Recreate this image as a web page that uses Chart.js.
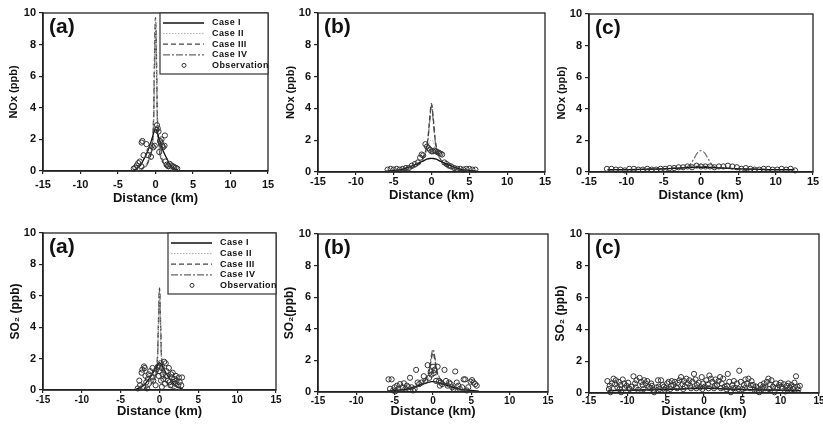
<!DOCTYPE html>
<html>
<head>
<meta charset="utf-8">
<script src="https://cdn.jsdelivr.net/npm/chart.js@4.4.1/dist/chart.umd.min.js"></script>
<style>
  body { margin: 0; width: 823px; height: 428px; overflow: hidden; background: #fff; position: relative; }
  canvas { position: absolute; }
</style>
</head>
<body>
<canvas id="noxA"></canvas>
<canvas id="noxB"></canvas>
<canvas id="noxC"></canvas>
<canvas id="so2A"></canvas>
<canvas id="so2B"></canvas>
<canvas id="so2C"></canvas>
<script>
// axis ticks
const xTickVals = [-15, -10, -5, 0, 5, 10, 15];
const yTickVals = [0, 2, 4, 6, 8, 10];
const legendNames = ['Case I', 'Case II', 'Case III', 'Case IV', 'Observation'];

// model x grids (km)
const gridA = [-3, -2.5, -2, -1.5, -1, -0.5, -0.25, -0.1, 0, 0.1, 0.25, 0.5, 1, 1.5, 2, 2.5, 3];
const gridB = [-6, -5, -4, -3, -2, -1.5, -1, -0.5, -0.25, 0, 0.25, 0.5, 1, 1.5, 2, 3, 4, 5, 6];
const gridC = [-12.5, -10, -7, -5, -3, -2, -1.5, -1, -0.5, 0, 0.5, 1, 1.5, 2, 3, 5, 7, 10, 12.5];

// NOx (a)
const noxA1 = [0.05, 0.15, 0.35, 0.8, 1.3, 2.0, 2.4, 2.6, 2.65, 2.6, 2.4, 2.0, 1.3, 0.8, 0.35, 0.15, 0.05];
const noxA2 = [0, 0.05, 0.1, 0.3, 0.7, 1.6, 3.0, 7.0, 9.6, 7.0, 3.0, 1.6, 0.7, 0.3, 0.1, 0.05, 0];
const noxA3 = [0, 0.05, 0.1, 0.25, 0.6, 1.5, 3.5, 8.0, 9.7, 8.0, 3.5, 1.5, 0.6, 0.25, 0.1, 0.05, 0];
const noxA4 = [0, 0.02, 0.08, 0.2, 0.5, 1.4, 3.2, 7.5, 9.3, 7.5, 3.2, 1.4, 0.5, 0.2, 0.08, 0.02, 0];
const noxAObsX = [-2.9, -2.7, -2.5, -2.3, -2.1, -1.9, -1.6, -1.85, -1.75, -1.2, -1.0, -0.8, -0.6, -0.5, -0.3, -0.1, 0.1, 0.2, 0.3, 0.4,
  0.5, 0.6, 0.7, 0.8, 0.9, 1.0, 1.25, 1.2, 1.3, 1.5, 1.7, 1.9, 2.1, 2.3, 2.5, 2.7, 2.9];
const noxAObsY = [0.15, 0.2, 0.35, 0.5, 0.6, 0.3, 1.0, 1.8, 1.9, 1.7, 1.0, 1.3, 0.9, 1.6, 1.5, 1.6, 2.6, 2.9, 2.7, 2.5,
  1.2, 1.9, 1.8, 2.0, 1.6, 1.5, 2.25, 1.6, 0.6, 0.4, 0.3, 0.45, 0.35, 0.3, 0.25, 0.2, 0.15];

// NOx (b)
const noxB1 = [0.05, 0.1, 0.15, 0.3, 0.5, 0.6, 0.72, 0.82, 0.85, 0.86, 0.85, 0.82, 0.72, 0.6, 0.5, 0.3, 0.15, 0.1, 0.05];
const noxB2 = [0.02, 0.05, 0.1, 0.2, 0.35, 0.55, 0.9, 1.5, 1.9, 2.0, 1.9, 1.5, 0.9, 0.55, 0.35, 0.2, 0.1, 0.05, 0.02];
const noxB3 = [0.02, 0.05, 0.1, 0.2, 0.4, 0.6, 1.0, 2.0, 3.3, 4.3, 3.3, 2.0, 1.0, 0.6, 0.4, 0.2, 0.1, 0.05, 0.02];
const noxB4 = [0.02, 0.05, 0.1, 0.18, 0.35, 0.55, 0.95, 1.9, 3.1, 4.2, 3.1, 1.9, 0.95, 0.55, 0.35, 0.18, 0.1, 0.05, 0.02];
const noxBObsX = [-5.8, -5.4, -5.0, -4.6, -4.2, -3.8, -3.4, -3.0, -2.6, -2.2, -1.8, -1.5, -1.3, -1.1, -0.8, -0.6, -0.4, -0.2, 0, 0.2,
  0.4, 0.6, 0.8, 1.0, 1.2, 1.4, 1.7, 2.0, 2.3, 2.6, 3.0, 3.4, 3.8, 4.2, 4.6, 5.0, 5.4, 5.8];
const noxBObsY = [0.15, 0.2, 0.15, 0.2, 0.15, 0.2, 0.25, 0.25, 0.4, 0.5, 0.6, 0.9, 1.1, 1.05, 1.75, 1.6, 1.5, 1.4, 1.3, 1.3,
  1.35, 1.3, 1.25, 1.2, 1.15, 1.1, 0.6, 0.5, 0.4, 0.35, 0.25, 0.2, 0.2, 0.15, 0.2, 0.2, 0.15, 0.15];

// NOx (c)
const noxC1 = [0.15, 0.15, 0.18, 0.2, 0.25, 0.27, 0.28, 0.29, 0.3, 0.3, 0.3, 0.29, 0.28, 0.27, 0.25, 0.2, 0.18, 0.15, 0.15];
const noxC2 = [0.15, 0.15, 0.18, 0.2, 0.25, 0.3, 0.35, 0.42, 0.48, 0.5, 0.48, 0.42, 0.35, 0.3, 0.25, 0.2, 0.18, 0.15, 0.15];
const noxC3 = [0.15, 0.15, 0.18, 0.2, 0.25, 0.28, 0.3, 0.33, 0.36, 0.37, 0.36, 0.33, 0.3, 0.28, 0.25, 0.2, 0.18, 0.15, 0.15];
const noxC4 = [0.15, 0.15, 0.18, 0.2, 0.25, 0.3, 0.45, 0.8, 1.2, 1.35, 1.2, 0.8, 0.45, 0.3, 0.25, 0.2, 0.18, 0.15, 0.15];
const noxCObsX = [-12.6, -12.0, -11.4, -10.8, -10.2, -9.6, -9.0, -8.4, -7.8, -7.2, -6.6, -6.0, -5.4, -4.8, -4.2, -3.6, -3.0, -2.4, -1.8, -1.2,
  -0.6, 0, 0.6, 1.2, 1.8, 2.4, 3.0, 3.6, 4.2, 4.8, 5.4, 6.0, 6.6, 7.2, 7.8, 8.4, 9.0, 9.6, 10.2, 10.8, 11.4, 12.0, 12.6];
const noxCObsY = [0.2, 0.2, 0.15, 0.15, 0.1, 0.2, 0.2, 0.15, 0.15, 0.2, 0.15, 0.15, 0.2, 0.2, 0.25, 0.25, 0.3, 0.3, 0.35, 0.3,
  0.4, 0.35, 0.35, 0.35, 0.3, 0.35, 0.35, 0.4, 0.35, 0.3, 0.2, 0.25, 0.2, 0.15, 0.15, 0.2, 0.2, 0.15, 0.15, 0.2, 0.15, 0.2, 0.1];

// SO2 (a)
const so2A1 = [0.05, 0.15, 0.3, 0.6, 0.95, 1.4, 1.6, 1.7, 1.75, 1.7, 1.6, 1.4, 0.95, 0.6, 0.3, 0.15, 0.05];
const so2A2 = [0, 0.03, 0.08, 0.2, 0.5, 1.1, 2.0, 4.5, 6.2, 4.5, 2.0, 1.1, 0.5, 0.2, 0.08, 0.03, 0];
const so2A3 = [0, 0.03, 0.07, 0.18, 0.45, 1.0, 2.2, 5.0, 6.5, 5.0, 2.2, 1.0, 0.45, 0.18, 0.07, 0.03, 0];
const so2A4 = [0, 0.02, 0.06, 0.15, 0.4, 0.95, 2.1, 4.8, 6.4, 4.8, 2.1, 0.95, 0.4, 0.15, 0.06, 0.02, 0];
const so2AObsX = [-2.8, -2.6, -2.5, -2.3, -2.2, -2.0, -1.9, -1.8, -1.7, -1.5,
  -1.4, -1.2, -1.0, -0.9, -0.8, -0.6, -0.5, -0.4, -0.2, -0.1,
  0, 0.1, 0.2, 0.3, 0.4, 0.5, 0.6, 0.7, 0.8, 0.9,
  1.0, 1.1, 1.2, 1.3, 1.4, 1.5, 1.6, 1.7, 1.8, 1.9,
  2.0, 2.1, 2.2, 2.4, 2.5, 2.6, 2.8, 2.9, -2.1, -1.6, 0.3];
const so2AObsY = [0.1, 0.6, 0.3, 1.1, 1.3, 1.5, 1.4, 0.9, 0.5, 0.7,
  1.0, 1.2, 0.8, 1.4, 0.6, 1.1, 0.3, 1.3, 1.5, 0.9,
  1.2, 1.7, 0.6, 1.4, 1.0, 0.7, 1.8, 0.4, 1.7, 1.2,
  0.9, 0.6, 1.4, 0.5, 0.3, 1.0, 0.8, 1.1, 0.5, 0.7,
  0.4, 0.9, 0.6, 0.3, 0.8, 0.5, 0.3, 0.8, 0.2, 0.1, 0.2];

// SO2 (b)
const so2B1 = [0.05, 0.1, 0.15, 0.25, 0.4, 0.48, 0.55, 0.62, 0.65, 0.66, 0.65, 0.62, 0.55, 0.48, 0.4, 0.25, 0.15, 0.1, 0.05];
const so2B2 = [0.02, 0.05, 0.1, 0.18, 0.3, 0.42, 0.6, 0.95, 1.3, 1.5, 1.3, 0.95, 0.6, 0.42, 0.3, 0.18, 0.1, 0.05, 0.02];
const so2B3 = [0.02, 0.05, 0.1, 0.2, 0.35, 0.5, 0.75, 1.3, 2.0, 2.5, 2.0, 1.3, 0.75, 0.5, 0.35, 0.2, 0.1, 0.05, 0.02];
const so2B4 = [0.02, 0.05, 0.1, 0.2, 0.35, 0.5, 0.8, 1.4, 2.2, 2.7, 2.2, 1.4, 0.8, 0.5, 0.35, 0.2, 0.1, 0.05, 0.02];
const so2BObsX = [-5.8, -5.4, -5.6, -5.2, -5.0, -4.7, -4.5, -4.3, -4.0, -3.8,
  -3.6, -3.4, -3.2, -3.0, -2.8, -2.6, -2.4, -2.2, -2.0, -1.8,
  -1.5, -1.2, -1.0, -0.7, -0.5, -0.3, -0.2, 0, 0.1, 0.2,
  0.4, 0.6, 0.8, 1.0, 1.2, 1.5, 1.7, 1.9, 2.1, 2.3,
  2.5, 2.7, 2.9, 3.1, 3.3, 3.5, 3.8, 4.0, 4.2, 4.4,
  4.6, 4.9, 5.1, 5.3, 5.5, 5.7, -4.9, 0.9];
const so2BObsY = [0.8, 0.8, 0.2, 0.1, 0.3, 0.4, 0.2, 0.5, 0.3, 0.55,
  0.2, 0.4, 0.3, 0.9, 0.3, 0.1, 0.2, 1.4, 0.6, 0.5,
  0.6, 1.0, 0.7, 1.7, 0.9, 1.3, 1.1, 1.6, 1.2, 1.4,
  0.7, 1.6, 0.7, 0.6, 0.5, 1.4, 0.7, 0.4, 0.6, 0.5,
  0.3, 0.2, 1.3, 0.6, 0.4, 0.2, 0.3, 0.8, 0.8, 0.1,
  0.3, 0.65, 0.75, 0.6, 0.5, 0.4, 0.05, 0.4];

// SO2 (c)
const so2C1 = [0.15, 0.17, 0.2, 0.22, 0.25, 0.27, 0.28, 0.28, 0.29, 0.3, 0.29, 0.28, 0.28, 0.27, 0.25, 0.22, 0.2, 0.17, 0.15];
const so2C2 = [0.15, 0.17, 0.2, 0.22, 0.26, 0.29, 0.31, 0.33, 0.35, 0.36, 0.35, 0.33, 0.31, 0.29, 0.26, 0.22, 0.2, 0.17, 0.15];
const so2C3 = [0.16, 0.18, 0.21, 0.23, 0.26, 0.28, 0.29, 0.3, 0.31, 0.32, 0.31, 0.3, 0.29, 0.28, 0.26, 0.23, 0.21, 0.18, 0.16];
const so2C4 = [0.15, 0.17, 0.2, 0.22, 0.26, 0.3, 0.33, 0.37, 0.4, 0.42, 0.4, 0.37, 0.33, 0.3, 0.26, 0.22, 0.2, 0.17, 0.15];
const so2CObsX = [
  -12.6, -12.4, -12.2, -12.0, -11.8, -11.6, -11.5, -11.3, -11.1, -10.9,
  -10.8, -10.6, -10.4, -10.3, -10.1, -9.9, -9.7, -9.4, -9.2, -9.0,
  -8.8, -8.6, -8.4, -8.2, -8.0, -7.8, -7.6, -7.4, -7.2, -7.0,
  -6.8, -6.6, -6.5, -6.2, -6.0, -5.8, -5.6, -5.4, -5.2, -5.0,
  -4.8, -4.6, -4.4, -4.2, -4.0, -3.8, -3.6, -3.4, -3.2, -3.0,
  -2.8, -2.6, -2.5, -2.3, -2.1, -1.9, -1.7, -1.5, -1.3, -1.1,
  -0.9, -0.7, -0.5, -0.3, -0.1, 0.1, 0.3, 0.5, 0.7, 0.9,
  1.1, 1.3, 1.5, 1.7, 1.9, 2.1, 2.3, 2.5, 2.7, 2.9,
  3.1, 3.3, 3.5, 3.7, 3.9, 4.1, 4.3, 4.6, 4.8, 5.0,
  5.2, 5.4, 5.6, 5.8, 6.0, 6.2, 6.4, 6.6, 6.8, 7.0,
  7.2, 7.4, 7.6, 7.8, 8.0, 8.2, 8.4, 8.6, 8.8, 9.0,
  9.2, 9.4, 9.6, 9.8, 10.0, 10.2, 10.4, 10.6, 10.8, 11.0,
  11.2, 11.4, 11.6, 11.8, 12.0, 12.2, 12.5,
  -12.3, -11.0, -9.8, -8.9, -7.9, -6.9, -5.9, -5.1, -4.3, -3.5,
  -2.7, -1.8, -1.0, -0.2, 0.6, 1.4, 2.2, 3.0, 3.8, 4.5,
  5.3, 6.1, 6.9, 7.7, 8.5, 9.3, 10.1, 10.9, 11.7, 12.3];
const so2CObsY = [
  0.75, 0.25, 0.05, 0.6, 0.9, 0.55, 0.8, 0.35, 0.7, 0.5,
  0.05, 0.85, 0.6, 0.3, 0.45, 0.65, 0.25, 0.4, 1.05, 0.6,
  0.8, 0.2, 0.95, 0.7, 0.5, 0.8, 0.6, 0.75, 0.4, 0.3,
  0.45, 0.2, 0.05, 0.35, 0.8, 0.25, 0.8, 0.5, 0.4, 0.3,
  0.6, 0.7, 0.25, 0.75, 0.5, 0.7, 0.35, 0.65, 0.8, 1.0,
  0.55, 0.75, 0.4, 0.9, 0.6, 0.8, 0.3, 0.7, 1.2, 0.85,
  0.5, 0.65, 0.35, 1.0, 0.6, 0.4, 0.8, 0.55, 1.1, 0.9,
  0.7, 0.3, 0.85, 0.5, 0.75, 1.0, 0.6, 0.9, 0.4, 0.25,
  1.2, 0.7, 0.05, 0.5, 0.75, 0.3, 0.6, 1.4, 0.7, 0.25,
  0.5, 0.85, 0.6, 0.9, 0.3, 0.75, 0.5, 0.2, 0.4, 0.3,
  0.05, 0.5, 0.25, 0.6, 0.3, 0.7, 0.9, 0.55, 0.8, 0.4,
  0.05, 0.6, 0.35, 0.5, 0.65, 0.3, 0.55, 0.1, 0.45, 0.6,
  0.35, 0.5, 0.25, 0.65, 1.05, 0.4, 0.45,
  0.45, 0.25, 0.3, 0.35, 0.25, 0.6, 0.4, 0.2, 0.45, 0.3,
  0.25, 0.45, 0.3, 0.25, 0.3, 0.45, 0.3, 0.45, 0.3, 0.25,
  0.3, 0.5, 0.15, 0.4, 0.25, 0.3, 0.4, 0.2, 0.4, 0.2];

const FONT = '"Liberation Sans", Arial, sans-serif';
Chart.defaults.font.family = FONT;
Chart.defaults.color = '#111';

// line look per case
const caseStyle = [
  { color: '#111', dash: [], width: 1.3 },
  { color: '#aaa', dash: [1.5, 1.5], width: 1 },
  { color: '#444', dash: [5, 3], width: 1.3 },
  { color: '#666', dash: [7, 2, 2, 2], width: 1.2 }
];

function drawLegend(ctx, a) {
  const w = 108, h = 61, x0 = a.right - w, y0 = a.top;
  ctx.fillStyle = '#fff';
  ctx.fillRect(x0, y0, w, h);
  ctx.strokeStyle = '#333';
  ctx.lineWidth = 1.2;
  ctx.strokeRect(x0, y0, w, h);
  ctx.font = 'bold 9px ' + FONT;
  ctx.letterSpacing = '0.4px';
  ctx.textBaseline = 'middle';
  legendNames.forEach((name, i) => {
    const y = y0 + 10 + i * 10.6;
    ctx.beginPath();
    if (i < caseStyle.length) {
      const s = caseStyle[i];
      ctx.setLineDash(s.dash);
      ctx.strokeStyle = s.color;
      ctx.lineWidth = s.width;
      ctx.moveTo(x0 + 3, y);
      ctx.lineTo(x0 + 44, y);
    } else {
      ctx.setLineDash([]);
      ctx.strokeStyle = '#333';
      ctx.lineWidth = 1;
      ctx.arc(x0 + 24, y, 2, 0, Math.PI * 2);
    }
    ctx.stroke();
    ctx.setLineDash([]);
    ctx.fillStyle = '#111';
    ctx.fillText(name, x0 + 52, y);
  });
}

// frame, panel tag and legend
const panelDecor = {
  id: 'panelDecor',
  afterDatasetsDraw(chart, args, opts) {
    const ctx = chart.ctx, a = chart.chartArea;
    ctx.save();
    ctx.strokeStyle = '#222';
    ctx.lineWidth = 1.3;
    ctx.strokeRect(a.left, a.top, a.right - a.left, a.bottom - a.top);
    ctx.fillStyle = '#111';
    ctx.font = 'bold 21px ' + FONT;
    ctx.textBaseline = 'middle';
    ctx.fillText(opts.tag, a.left + 6, a.top + 14);
    if (opts.legend) drawLegend(ctx, a);
    ctx.restore();
  }
};
Chart.register(panelDecor);

const panels = [
  { id: 'noxA', left: 0, top: 0, w: 283, h: 214, padTop: 13, padRight: 15, yW: 43, xH: 43,
    yTitle: 'NOx (ppb)', yTitleSize: 11, yTitlePad: 8.5, xTitlePad: 9, xTickPad: 4, xTickSize: 11, tag: '(a)', legend: true,
    xs: gridA, cases: [noxA1, noxA2, noxA3, noxA4], obsX: noxAObsX, obsY: noxAObsY },
  { id: 'noxB', left: 283, top: 0, w: 272, h: 214, padTop: 13, padRight: 10, yW: 35, xH: 42,
    yTitle: 'NOx (ppb)', yTitleSize: 11, yTitlePad: 2.5, xTitlePad: 12.5, xTickPad: 0, xTickSize: 11, tag: '(b)', legend: false,
    xs: gridB, cases: [noxB1, noxB2, noxB3, noxB4], obsX: noxBObsX, obsY: noxBObsY },
  { id: 'noxC', left: 555, top: 0, w: 275, h: 214, padTop: 14, padRight: 17, yW: 34, xH: 42,
    yTitle: 'NOx (ppb)', yTitleSize: 11, yTitlePad: 1, xTitlePad: 12.5, xTickPad: 0, xTickSize: 11, tag: '(c)', legend: false,
    xs: gridC, cases: [noxC1, noxC2, noxC3, noxC4], obsX: noxCObsX, obsY: noxCObsY },
  { id: 'so2A', left: 0, top: 214, w: 283, h: 214, padTop: 19, padRight: 7, yW: 43, xH: 38,
    yTitle: 'SO\u2082 (ppb)', yTitleSize: 12, yTitlePad: 10, xTitlePad: 10.5, xTickPad: 1, xTickSize: 10, tag: '(a)', legend: true,
    xs: gridA, cases: [so2A1, so2A2, so2A3, so2A4], obsX: so2AObsX, obsY: so2AObsY },
  { id: 'so2B', left: 283, top: 214, w: 272, h: 214, padTop: 20, padRight: 7, yW: 35, xH: 36,
    yTitle: 'SO\u2082(ppb)', yTitleSize: 12, yTitlePad: 1, xTitlePad: 10, xTickPad: 0, xTickSize: 10, tag: '(b)', legend: false,
    xs: gridB, cases: [so2B1, so2B2, so2B3, so2B4], obsX: so2BObsX, obsY: so2BObsY },
  { id: 'so2C', left: 555, top: 214, w: 275, h: 214, padTop: 20, padRight: 11, yW: 34, xH: 35,
    yTitle: 'SO\u2082 (ppb)', yTitleSize: 12, yTitlePad: 0, xTitlePad: 10, xTickPad: -1, xTickSize: 10, tag: '(c)', legend: false,
    xs: gridC, cases: [so2C1, so2C2, so2C3, so2C4], obsX: so2CObsX, obsY: so2CObsY }
];

function buildPanel(p) {
  const cv = document.getElementById(p.id);
  cv.width = p.w;
  cv.height = p.h;
  cv.style.left = p.left + 'px';
  cv.style.top = p.top + 'px';

  const datasets = [{
    label: 'Observation',
    data: p.obsX.map((x, i) => ({ x: x, y: p.obsY[i] })),
    showLine: false,
    pointRadius: 2.6,
    pointBorderWidth: 1,
    pointBorderColor: '#333',
    pointBackgroundColor: 'rgba(255,255,255,0)',
    clip: false,
    order: 0
  }];
  p.cases.forEach((ys, k) => {
    const s = caseStyle[k];
    datasets.push({
      label: legendNames[k],
      data: p.xs.map((x, i) => ({ x: x, y: ys[i] })),
      showLine: true,
      pointRadius: 0,
      borderColor: s.color,
      borderDash: s.dash,
      borderWidth: s.width,
      cubicInterpolationMode: 'monotone',
      order: k + 1
    });
  });

  new Chart(cv, {
    type: 'scatter',
    data: { datasets: datasets },
    options: {
      responsive: false,
      animation: false,
      devicePixelRatio: 1,
      layout: { padding: { left: 0, top: p.padTop, right: p.padRight, bottom: 0 } },
      plugins: {
        legend: { display: false },
        tooltip: { enabled: false },
        panelDecor: { tag: p.tag, legend: p.legend }
      },
      scales: {
        x: {
          type: 'linear', min: -15, max: 15,
          afterBuildTicks: s => { s.ticks = xTickVals.map(v => ({ value: v })); },
          afterFit: s => { s.height = p.xH; },
          ticks: { font: { size: p.xTickSize, weight: 'bold' }, padding: p.xTickPad, maxRotation: 0, autoSkip: false },
          grid: { drawOnChartArea: false, drawTicks: true, tickLength: 3, color: '#222', lineWidth: 1.2 },
          border: { color: '#222', width: 1.5 },
          title: { display: true, text: 'Distance (km)', font: { size: 13, weight: 'bold', lineHeight: 1 },
                   padding: { top: 0, bottom: p.xTitlePad } }
        },
        y: {
          type: 'linear', min: 0, max: 10,
          afterBuildTicks: s => { s.ticks = yTickVals.map(v => ({ value: v })); },
          afterFit: s => { s.width = p.yW; },
          ticks: { font: { size: 11, weight: 'bold' }, padding: 3 },
          grid: { drawOnChartArea: false, drawTicks: true, tickLength: 4, color: '#222', lineWidth: 1.2 },
          border: { color: '#222', width: 1.5 },
          title: { display: true, text: p.yTitle, font: { size: p.yTitleSize, weight: 'bold', lineHeight: 1 },
                   padding: { top: p.yTitlePad, bottom: 0 } }
        }
      }
    }
  });
}

panels.forEach(buildPanel);
</script>
</body>
</html>
